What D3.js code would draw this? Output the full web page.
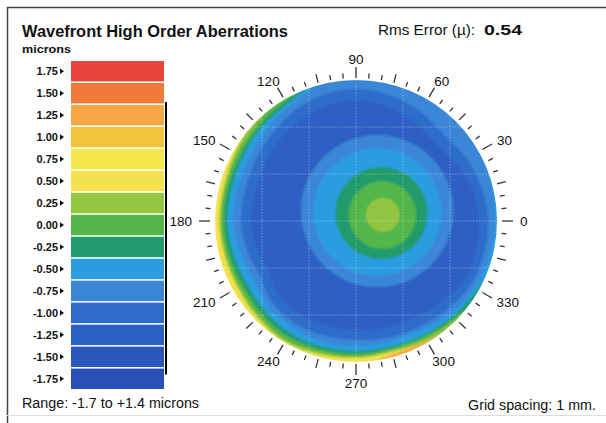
<!DOCTYPE html>
<html><head><meta charset="utf-8">
<script src="https://cdn.jsdelivr.net/npm/d3@7"></script>
<style>
body{margin:0;background:#fff}
svg{display:block}
text{font-family:"Liberation Sans",Arial,Helvetica,sans-serif;fill:#111}
</style>
</head><body>
<svg id="chart" width="606" height="423"></svg>
<script>
// ---------- DATA ----------
const legendLabels = ["1.75","1.50","1.25","1.00","0.75","0.50","0.25","0.00","-0.25","-0.50","-0.75","-1.00","-1.25","-1.50","-1.75"];
const legendColors = ["#e8453b","#f07b38","#f5a743","#f4c33c","#f5e64c","#f3e24d","#93c641","#52b649","#219b6b","#2b9de0","#3a86d6","#2f6cca","#2d60c3","#2b57bd","#2a50b7"];
const rangeMin = -1.7, rangeMax = 1.4;
const rmsError = "0.54";
const gridSpacingMm = 1;
const diskRadiusMm = 3;
const angleLabels = [0,30,60,90,120,150,180,210,240,270,300,330];
const contourAngles = [0,15,30,45,60,75,90,105,120,135,150,165,180,195,210,225,240,255,270,285,300,315,330,345];
const mapBaseLevel = "-1.25";
// edge contours: radius (mm) of each level boundary; values >= level lie outside
const edgeM100 = [2.62,2.57,2.45,2.36,2.45,2.53,2.57,2.53,2.45,2.36,2.28,2.23,2.23,2.19,2.15,2.28,2.32,2.32,2.32,2.36,2.40,2.49,2.62,2.64];
const edgeM075 = [2.81,2.77,2.70,2.62,2.70,2.77,2.81,2.77,2.68,2.57,2.49,2.45,2.45,2.40,2.36,2.49,2.53,2.53,2.53,2.57,2.62,2.70,2.79,2.81];
const edgeM050 = [2.96,2.98,3.09,3.09,3.09,3.09,3.09,3.00,2.83,2.72,2.64,2.62,2.62,2.55,2.51,2.60,2.64,2.66,2.66,2.66,2.70,2.81,2.89,2.94];
const edgeM025 = [3.09,3.09,3.09,3.09,3.09,3.09,3.09,3.09,2.89,2.83,2.77,2.74,2.74,2.70,2.68,2.72,2.77,2.77,2.77,2.77,2.81,2.89,2.96,3.09];
const edgeP000 = [3.09,3.09,3.09,3.09,3.09,3.09,3.09,3.09,2.96,2.89,2.83,2.81,2.81,2.79,2.77,2.81,2.85,2.83,2.83,2.81,2.85,2.94,3.09,3.09];
const edgeP025 = [3.09,3.09,3.09,3.09,3.09,3.09,3.09,3.09,3.09,2.96,2.91,2.87,2.87,2.85,2.85,2.89,2.94,2.89,2.89,2.85,2.91,2.98,3.09,3.09];
const edgeP050 = [3.09,3.09,3.09,3.09,3.09,3.09,3.09,3.09,3.09,3.04,2.96,2.91,2.91,2.89,2.89,2.94,2.98,2.94,2.91,2.89,2.96,3.09,3.09,3.09];
const edgeP125 = [3.09,3.09,3.09,3.09,3.09,3.09,3.09,3.09,3.09,3.09,3.09,3.09,3.09,3.09,3.09,3.09,3.09,3.09,3.09,2.94,2.96,3.09,3.09,3.09];
const edgeLevels = ["-1.00","-0.75","-0.50","-0.25","0.00","0.25","0.50","1.25"];
const edgeContours = [edgeM100,edgeM075,edgeM050,edgeM025,edgeP000,edgeP025,edgeP050,edgeP125];
// central (nearly circular) contours
const centerLevels = ["-0.75","-0.50","-0.25","0.00","0.25"];
const centerXmm = [0.45,0.45,0.54,0.56,0.57];
const centerYmm = [0.21,0.19,0.17,0.13,0.13];
const centerRmm = [1.62,1.36,0.98,0.72,0.36];

// ---------- LAYOUT ----------
const svg = d3.select("#chart");
const colorOf = d3.scaleOrdinal().domain(legendLabels).range(legendColors);
const cx = 356, cy = 221, R = 141;

// frame
svg.append("line").attr("x1",7).attr("x2",606).attr("y1",7.5).attr("y2",7.5).attr("stroke","#444").attr("stroke-width",1.5);
svg.append("line").attr("x1",7.5).attr("x2",7.5).attr("y1",7).attr("y2",423).attr("stroke","#444").attr("stroke-width",1.5);
svg.append("line").attr("x1",7).attr("x2",606).attr("y1",415.5).attr("y2",415.5).attr("stroke","#ddd").attr("stroke-width",1);

// titles
svg.append("text").attr("x",22).attr("y",37).style("font-weight","bold").style("font-size","16.3px")
  .attr("textLength",266).attr("lengthAdjust","spacingAndGlyphs").text("Wavefront High Order Aberrations");
svg.append("text").attr("x",22).attr("y",53).style("font-weight","bold").style("font-size","11.5px")
  .attr("textLength",49).attr("lengthAdjust","spacingAndGlyphs").text("microns");
svg.append("text").attr("x",378).attr("y",35).style("font-size","15px")
  .attr("textLength",97).attr("lengthAdjust","spacingAndGlyphs").text("Rms Error (\u00b5):");
svg.append("text").attr("x",484).attr("y",35).style("font-size","15px").style("font-weight","bold")
  .attr("textLength",38).attr("lengthAdjust","spacingAndGlyphs").text(rmsError);
svg.append("text").attr("x",22).attr("y",408).style("font-size","14px")
  .attr("textLength",177).attr("lengthAdjust","spacingAndGlyphs").text(`Range: ${rangeMin} to +${rangeMax} microns`);
svg.append("text").attr("x",468).attr("y",410).style("font-size","14px")
  .attr("textLength",128).attr("lengthAdjust","spacingAndGlyphs").text(`Grid spacing: ${gridSpacingMm} mm.`);

// legend
const band = d3.scaleBand().domain(legendLabels).range([61,389]).paddingInner(0.07);
const leg = svg.append("g");
leg.selectAll("rect").data(legendLabels).join("rect")
  .attr("x",71).attr("width",93).attr("y",d=>band(d)).attr("height",band.bandwidth())
  .attr("fill",d=>colorOf(d));
leg.selectAll("text").data(legendLabels).join("text")
  .attr("x",58).attr("y",d=>band(d)+band.bandwidth()/2).attr("dy","0.36em")
  .attr("text-anchor","end").style("font-size","11px").style("font-weight","bold").text(d=>d);
leg.selectAll("path").data(legendLabels).join("path")
  .attr("d",d=>{const y=band(d)+band.bandwidth()/2;return `M60,${y-2.8}L64,${y}L60,${y+2.8}Z`;})
  .attr("fill","#111");
const vScale = d3.scaleLinear()
  .domain([+legendLabels[0], +legendLabels[legendLabels.length-1]])
  .range([band(legendLabels[0])+band.bandwidth()/2, band(legendLabels[legendLabels.length-1])+band.bandwidth()/2]);
leg.append("line").attr("x1",166).attr("x2",166).attr("y1",vScale(rangeMax)).attr("y2",vScale(rangeMin))
  .attr("stroke","#000").attr("stroke-width",2);

// map
const defs = svg.append("defs");
defs.append("clipPath").attr("id","disk").append("circle").attr("cx",0).attr("cy",0).attr("r",R);
const f = defs.append("filter").attr("id","soft").attr("x","-20%").attr("y","-20%").attr("width","140%").attr("height","140%");
f.append("feGaussianBlur").attr("stdDeviation",1.3);

const mm = d3.scaleLinear().domain([0,diskRadiusMm]).range([0,R]);
const map = svg.append("g").attr("transform",`translate(${cx},${cy})`);
const clipped = map.append("g").attr("clip-path","url(#disk)");
const soft = clipped.append("g").attr("filter","url(#soft)");
soft.append("circle").attr("r",R+6).attr("fill",colorOf(mapBaseLevel));

const circlePath = () => {const p=d3.path();p.moveTo(R+10,0);p.arc(0,0,R+10,0,2*Math.PI);p.closePath();return p.toString();};
const radial = d3.lineRadial()
  .angle((d,i)=>Math.PI/2 - contourAngles[i]*Math.PI/180)
  .radius(d=>mm(d))
  .curve(d3.curveCatmullRomClosed.alpha(0.5));

// central rings (drawn before edge bands)
soft.selectAll("circle.ring").data(centerLevels).join("circle").attr("class","ring")
  .attr("cx",(d,i)=>mm(centerXmm[i])).attr("cy",(d,i)=>-mm(centerYmm[i])).attr("r",(d,i)=>mm(centerRmm[i]))
  .attr("fill",d=>colorOf(d));

soft.selectAll("path.edge").data(edgeLevels).join("path").attr("class","edge")
  .attr("d",(d,i)=>circlePath()+radial(edgeContours[i]))
  .attr("fill-rule","evenodd").attr("fill",d=>colorOf(d));

// grid
const gridVals = d3.range(-diskRadiusMm, diskRadiusMm+0.001, gridSpacingMm);
clipped.selectAll("line.gx").data(gridVals).join("line").attr("class","gx")
  .attr("x1",d=>mm(d)).attr("x2",d=>mm(d)).attr("y1",-R).attr("y2",R)
  .attr("stroke","#fff").attr("stroke-opacity",0.35).attr("stroke-dasharray","1.5,1.5");
clipped.selectAll("line.gy").data(gridVals).join("line").attr("class","gy")
  .attr("y1",d=>mm(d)).attr("y2",d=>mm(d)).attr("x1",-R).attr("x2",R)
  .attr("stroke","#fff").attr("stroke-opacity",0.35).attr("stroke-dasharray","1.5,1.5");

// angle ticks
const ticks = d3.range(0,360,5);
const rxIn = 146, ryIn = 143;
map.selectAll("line.tick").data(ticks).join("line").attr("class","tick")
  .each(function(a){
    const t=a*Math.PI/180, len = a%30===0?11:(a%15===0?9:5);
    d3.select(this)
      .attr("x1",rxIn*Math.cos(t)).attr("y1",-ryIn*Math.sin(t))
      .attr("x2",(rxIn+len)*Math.cos(t)).attr("y2",-(ryIn+len)*Math.sin(t));
  })
  .attr("stroke","#333").attr("stroke-width",1.3);

// angle labels
map.selectAll("text.al").data(angleLabels).join("text").attr("class","al")
  .style("font-size","13.5px").attr("text-anchor","middle").attr("dy","0.36em")
  .text(d=>d)
  .each(function(a){
    const t=a*Math.PI/180, w=this.getComputedTextLength(), h=10;
    const x = (164)*Math.cos(t) + (w/2)*Math.cos(t);
    const y = -(157)*Math.sin(t) - (h/2)*Math.sin(t);
    d3.select(this).attr("x",x).attr("y",y);
  });
</script>
</body></html>
